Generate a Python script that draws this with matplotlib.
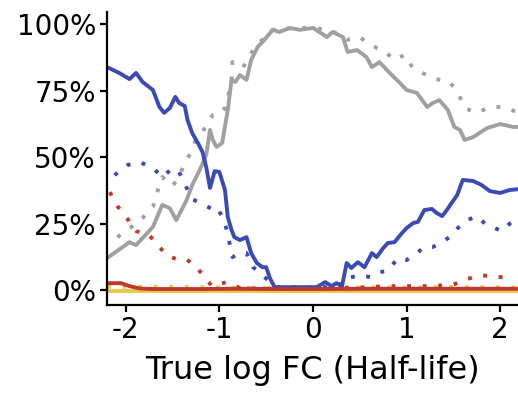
import matplotlib
matplotlib.use("Agg")
import matplotlib.pyplot as plt
from matplotlib.ticker import FuncFormatter

plt.rcParams['font.family'] = ['DejaVu Sans']

# gray: solid / dotted
gray_x = [-2.2, -1.96, -1.89, -1.71, -1.61, -1.53, -1.46, -1.35, -1.29, -1.21, -1.14, -1.10,
          -1.07, -1.03, -0.97, -0.91, -0.87, -0.83, -0.78, -0.71, -0.66, -0.59, -0.52, -0.43,
          -0.36, -0.25, -0.14, 0.0, 0.15, 0.21, 0.32, 0.37, 0.47, 0.57, 0.63, 0.71, 0.82, 0.93,
          1.00, 1.11, 1.22, 1.28, 1.35, 1.44, 1.51, 1.57, 1.62, 1.71, 1.86, 2.00, 2.14, 2.21]
gray_y = [12.0, 18.0, 16.9, 23.7, 32.0, 30.8, 26.3, 33.8, 39.5, 45.1, 50.8, 60.2,
          56.4, 53.8, 55.3, 67.7, 79.0, 78.2, 80.8, 79.0, 86.5, 91.4, 94.0, 97.8,
          97.0, 98.5, 97.8, 98.5, 95.1, 97.0, 95.1, 89.5, 90.2, 87.6, 83.8, 85.7, 81.6, 77.8,
          75.2, 74.1, 68.8, 70.3, 71.4, 67.7, 61.3, 60.2, 56.4, 57.5, 60.9, 62.4, 61.3, 61.3]
gray_dot_x = [-2.09, -1.94, -1.82, -1.71, -1.66, -1.61, -1.50, -1.43, -1.37, -1.30, -1.24,
              -1.14, -1.07, -1.02, -0.94, -0.87, -0.86, -0.81, -0.75, -0.62, -0.43, -0.2, 0.0,
              0.2, 0.36, 0.50, 0.58, 0.68, 0.75, 0.87, 0.98, 1.06, 1.17, 1.27, 1.35, 1.46,
              1.55, 1.62, 1.75, 1.89, 2.03, 2.18]
gray_dot_y = [19.9, 23.7, 27.1, 31.2, 37.2, 42.5, 39.1, 42.5, 47.8, 51.9, 57.5,
              61.3, 65.8, 65.8, 68.4, 77.8, 85.7, 84.6, 83.5, 91.4, 97.8, 98.5, 98.5,
              97.5, 94.0, 95.1, 92.9, 91.0, 90.2, 86.5, 88.4, 83.8, 81.6, 79.7, 79.0, 78.2,
              74.1, 68.4, 66.6, 68.8, 68.8, 66.9]

# blue: solid / dotted
blue_x = [-2.2, -2.07, -1.96, -1.89, -1.82, -1.71, -1.64, -1.59, -1.53, -1.47, -1.43, -1.37,
          -1.34, -1.29, -1.23, -1.18, -1.14, -1.10, -1.05, -1.00, -0.94, -0.91, -0.87, -0.84,
          -0.78, -0.71, -0.66, -0.60, -0.54, -0.50, -0.46, -0.41, -0.36, -0.14, 0.04, 0.13,
          0.20, 0.25, 0.31, 0.36, 0.41, 0.48, 0.55, 0.63, 0.68, 0.75, 0.80, 0.87, 0.95, 1.00,
          1.07, 1.12, 1.19, 1.27, 1.32, 1.38, 1.43, 1.48, 1.54, 1.60, 1.71, 1.80, 1.89, 2.00,
          2.10, 2.21]
blue_y = [83.8, 81.6, 79.3, 81.6, 78.2, 75.2, 68.8, 66.6, 68.4, 72.6, 70.3, 69.2,
          63.9, 59.0, 55.3, 51.9, 46.2, 38.4, 44.7, 44.4, 37.6, 27.4, 22.6, 19.9,
          18.8, 19.9, 13.9, 10.2, 8.6, 8.6, 4.5, 1.1, 1.1, 1.1, 1.1, 3.0,
          1.5, 2.6, 1.5, 10.2, 8.3, 10.5, 8.6, 13.9, 12.4, 15.8, 17.7, 18.0, 21.4, 23.3,
          25.2, 25.6, 30.1, 30.5, 29.0, 27.8, 30.1, 32.7, 35.7, 41.4, 41.0, 39.5, 37.2, 36.5,
          37.6, 38.0]
blue_dot_x = [-2.12, -1.98, -1.85, -1.71, -1.61, -1.51, -1.44, -1.37, -1.29, -1.18, -1.08,
              -1.03, -0.96, -0.91, -0.88, -0.86, -0.78, -0.71, -0.64, -0.55, -0.46, -0.39,
              0.0, 0.25, 0.37, 0.50, 0.61, 0.71, 0.79, 0.91, 1.00, 1.11, 1.19, 1.28, 1.38,
              1.49, 1.59, 1.74, 1.86, 2.02, 2.14]
blue_dot_y = [43.2, 47.0, 48.1, 45.9, 42.5, 45.5, 45.1, 39.9, 34.2, 32.3, 30.5,
              31.2, 27.1, 21.4, 15.4, 12.4, 13.9, 13.9, 8.6, 6.0, 3.0, 1.1,
              1.0, 1.2, 4.5, 5.6, 4.9, 6.8, 7.1, 12.0, 11.3, 13.9, 16.2, 16.2, 18.0,
              20.7, 25.2, 27.8, 24.4, 22.2, 26.3]

# red: solid / dotted
red_x = [-2.2, -2.05, -1.95, -1.85, -1.7, -1.2, -0.8, -0.4, 0.0, 0.5, 1.0, 1.5, 2.21]
red_y = [2.6, 2.6, 1.4, 0.6, 0.4, 0.4, 0.5, 0.4, 0.4, 0.5, 0.5, 0.5, 0.5]
red_dot_x = [-2.17, -2.09, -1.98, -1.89, -1.75, -1.65, -1.55, -1.46, -1.36, -1.28, -1.18,
             -1.08, -0.92, -0.78, -0.5, -0.2, 0.2, 0.5, 0.80, 1.09, 1.22, 1.49, 1.64, 1.80,
             1.96, 2.12]
red_dot_y = [36.8, 31.6, 26.7, 22.2, 20.7, 16.5, 12.8, 11.7, 11.7, 9.8, 6.0,
             1.5, 3.0, 0.8, 0.6, 0.6, 0.8, 1.0, 1.5, 1.5, 1.5, 1.9, 4.1, 5.6,
             4.9, 4.9]

# yellow: solid / dotted
yel_x = [-2.2, -1.0, 0.0, 1.0, 2.21]
yel_y = [-0.2, -0.2, -0.2, -0.2, -0.2]
yel_dot_x = [-2.2, -1.6, -1.0, -0.5, 0.0, 0.5, 1.0, 1.5, 2.21]
yel_dot_y = [1.2, 1.3, 1.0, 0.8, 0.8, 1.0, 1.0, 1.2, 1.0]

BLUE = '#3A4BB5'
GRAY = '#A0A0A0'
RED = '#BE3A2C'
YEL = '#E6C84A'
dots = (0, (1, 3))

fig = plt.figure(figsize=(5.18, 3.96), dpi=100)
ax = fig.add_axes([0.2066, 0.2298, 0.7934, 0.7399])

lw = 2.8
ax.plot(yel_dot_x, yel_dot_y, color=YEL, lw=lw, linestyle=dots)
ax.plot(yel_x, yel_y, color=YEL, lw=lw)
ax.plot(red_dot_x, red_dot_y, color=RED, lw=lw, linestyle=dots)
ax.plot(gray_dot_x, gray_dot_y, color=GRAY, lw=lw, linestyle=dots)
ax.plot(blue_dot_x, blue_dot_y, color=BLUE, lw=lw, linestyle=dots)
ax.plot(gray_x, gray_y, color=GRAY, lw=lw)
ax.plot(blue_x, blue_y, color=BLUE, lw=lw)
ax.plot(red_x, red_y, color=RED, lw=lw)

ax.set_xlim(-2.2, 2.19)
ax.set_ylim(-5.6, 104.5)
ax.set_xticks([-2, -1, 0, 1, 2])
ax.set_xticklabels(['-2', '-1', '0', '1', '2'])
ax.set_yticks([0, 25, 50, 75, 100])
ax.yaxis.set_major_formatter(FuncFormatter(lambda v, p: f'{v:.0f}%'))
ax.tick_params(labelsize=20, width=1.6, length=5, color='black', pad=3)
ax.set_xlabel('True log FC (Half-life)', fontsize=23, labelpad=8)

for s in ['top', 'right']:
    ax.spines[s].set_visible(False)
for s in ['left', 'bottom']:
    ax.spines[s].set_linewidth(1.6)

fig.savefig('out.png', dpi=100)
